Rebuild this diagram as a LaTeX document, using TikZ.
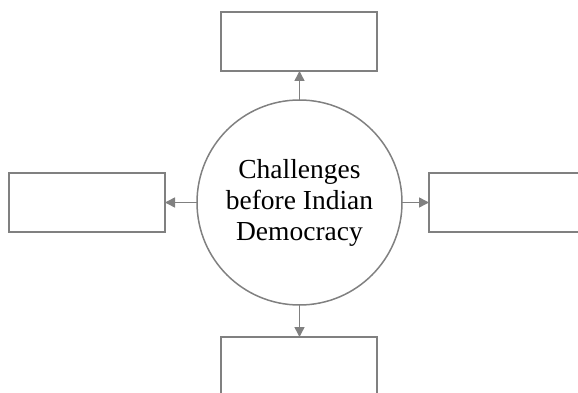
\documentclass[tikz,border=0pt]{standalone}
\usepackage{fontspec}
\setmainfont{Liberation Serif}
\usetikzlibrary{arrows.meta}
\definecolor{lg}{HTML}{808080}
\begin{document}
\begin{tikzpicture}[x=1pt,y=-1pt,
  boxst/.style={draw=lg,line width=1.5pt,minimum width=156pt,minimum height=59pt,inner sep=0pt,outer sep=0pt,anchor=north west},
  circst/.style={draw=lg,line width=1.5pt,circle,minimum size=205pt,inner sep=0pt,outer sep=0pt,align=center,font=\fontsize{27.5}{31}\selectfont},
  arr/.style={draw=lg,line width=1.5pt,-{Triangle[length=10pt,width=10pt]}}]
\useasboundingbox (0,0) rectangle (578,393);
\clip (0,0) rectangle (578,393);
\node[circst] (c) at (299.5,202.5) {Challenges\\before Indian\\Democracy};
\node[boxst] (t) at (221,12) {};
\node[boxst] (l) at (9,173) {};
\node[boxst] (r) at (429,173) {};
\node[boxst] (b) at (221,337) {};
\draw[arr] (c.north) -- (c.north |- t.south);
\draw[arr] (c.west) -- (c.west -| l.east);
\draw[arr] (c.east) -- (c.east -| r.west);
\draw[arr] (c.south) -- (c.south |- b.north);
\end{tikzpicture}
\end{document}
